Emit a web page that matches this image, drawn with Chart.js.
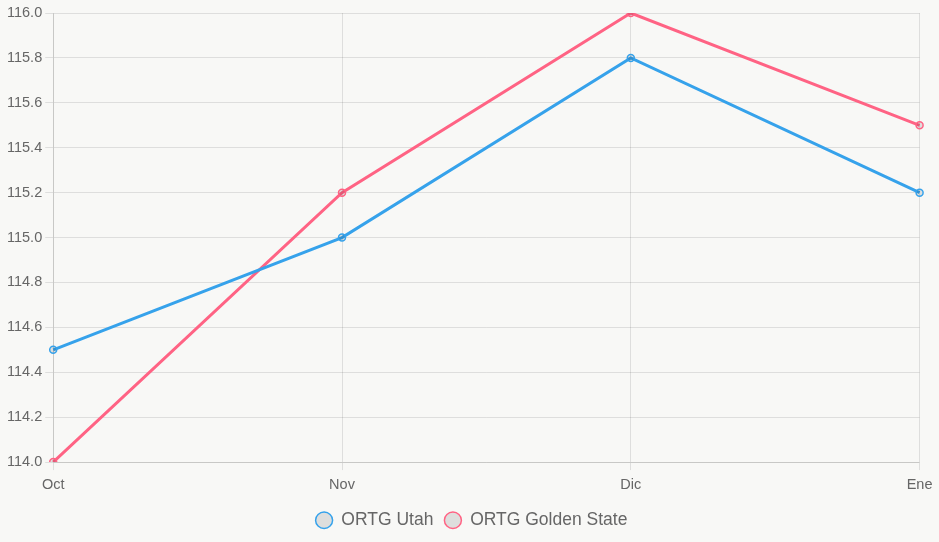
<!DOCTYPE html>
<html>
<head>
<meta charset="utf-8">
<script src="https://cdn.jsdelivr.net/npm/chart.js@4"></script>
<style>
  html, body { margin: 0; padding: 0; background: #f8f8f6; }
  #wrap { width: 939px; height: 542px; }
</style>
</head>
<body>
<div id="wrap"><canvas id="mycanvas"></canvas></div>
<script>
var meses = ["Oct", "Nov", "Dic", "Ene"];
var utah = [114.5, 115.0, 115.8, 115.2];
var golden = [114.0, 115.2, 116.0, 115.5];

Chart.defaults.font.family = "'Liberation Sans', Arial, sans-serif";
Chart.defaults.color = "#666";

var chartdata = {
  labels: meses,
  datasets: [
    {
      label: "ORTG Utah",
      fill: false,
      tension: 0,
      borderWidth: 3,
      borderColor: "rgb(54, 162, 235)",
      backgroundColor: "rgba(0, 0, 0, 0.1)",
      pointRadius: 3.5,
      pointBorderWidth: 1.5,
      data: utah
    },
    {
      label: "ORTG Golden State",
      fill: false,
      tension: 0,
      borderWidth: 3,
      borderColor: "rgb(255, 99, 132)",
      backgroundColor: "rgba(0, 0, 0, 0.1)",
      pointRadius: 3.5,
      pointBorderWidth: 1.5,
      data: golden
    }
  ]
};

var ctx = document.getElementById("mycanvas");
new Chart(ctx, {
  type: "line",
  data: chartdata,
  options: {
    responsive: true,
    maintainAspectRatio: false,
    animation: false,
    layout: { padding: { left: 4, top: 13, right: 0, bottom: 3 } },
    plugins: {
      legend: {
        position: "bottom",
        labels: {
          usePointStyle: true,
          pointStyleWidth: 17,
          boxHeight: 11.5,
          padding: 11,
          font: { size: 17.5 }
        }
      }
    },
    scales: {
      x: { ticks: { padding: 6.5, font: { size: 14.5 } } },
      y: {
        min: 114,
        max: 116,
        ticks: { stepSize: 0.2, font: { size: 14.5 }, callback: function (v) { return v.toFixed(1); } }
      }
    }
  }
});
</script>
</body>
</html>
